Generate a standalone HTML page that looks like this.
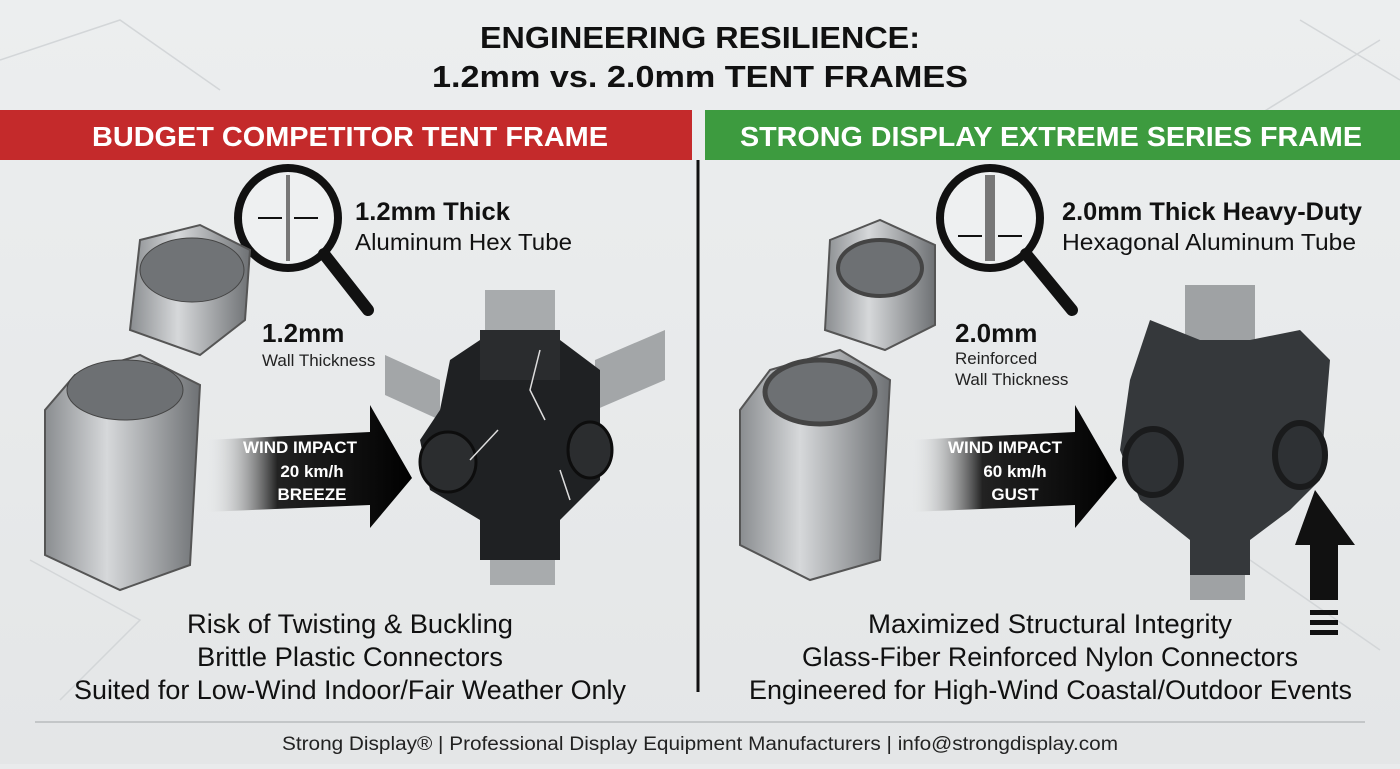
<!DOCTYPE html>
<html><head><meta charset="utf-8"><style>
html,body{margin:0;padding:0;}
body{width:1400px;height:764px;overflow:hidden;background:#e9ebec;font-family:"Liberation Sans",sans-serif;}
svg text{font-family:"Liberation Sans",sans-serif;}
</style></head><body>
<svg width="1400" height="764" viewBox="0 0 1400 764" xmlns="http://www.w3.org/2000/svg">
<defs>
<linearGradient id="tube" x1="0" x2="1"><stop offset="0" stop-color="#8a8d90"/><stop offset="0.4" stop-color="#d6d8da"/><stop offset="1" stop-color="#6e7174"/></linearGradient>
<linearGradient id="bg" x1="0" y1="0" x2="0" y2="1"><stop offset="0" stop-color="#eceeef"/><stop offset="1" stop-color="#e4e6e7"/></linearGradient>
<linearGradient id="arr" x1="0" x2="1"><stop offset="0" stop-color="#e9ebec" stop-opacity="0"/><stop offset="0.35" stop-color="#222"/><stop offset="1" stop-color="#000"/></linearGradient>
</defs>
<rect width="1400" height="764" fill="url(#bg)"/>
<g stroke="#d3d6d8" stroke-width="1.5" fill="none">
<path d="M0 60 L120 20 L220 90 M1300 20 L1400 80 M1250 120 L1380 40 M30 560 L140 620 L60 700 M1250 560 L1380 650"/>
</g>
<text x="480" y="48" font-size="31" font-weight="bold" fill="#111" textLength="440" lengthAdjust="spacingAndGlyphs">ENGINEERING RESILIENCE:</text>
<text x="432" y="87" font-size="31" font-weight="bold" fill="#111" textLength="536" lengthAdjust="spacingAndGlyphs">1.2mm vs. 2.0mm TENT FRAMES</text>
<rect x="0" y="110" width="692" height="50" fill="#c42a2b"/>
<rect x="705" y="110" width="695" height="50" fill="#3d9b3f"/>
<text x="92" y="146" font-size="28" font-weight="bold" fill="#fff" textLength="516" lengthAdjust="spacingAndGlyphs">BUDGET COMPETITOR TENT FRAME</text>
<text x="740" y="146" font-size="28" font-weight="bold" fill="#fff" textLength="622" lengthAdjust="spacingAndGlyphs">STRONG DISPLAY EXTREME SERIES FRAME</text>
<line x1="698" y1="160" x2="698" y2="692" stroke="#111" stroke-width="3"/>
<line x1="35" y1="722" x2="1365" y2="722" stroke="#b8bbbd" stroke-width="1.5"/>
<text x="282" y="750" font-size="19" fill="#222" textLength="836" lengthAdjust="spacingAndGlyphs">Strong Display® | Professional Display Equipment Manufacturers | info@strongdisplay.com</text>

<!-- LEFT -->
<g>
<circle cx="288" cy="218" r="50" fill="#eef0f1" stroke="#111" stroke-width="8"/>
<line x1="324" y1="254" x2="368" y2="310" stroke="#111" stroke-width="12" stroke-linecap="round"/>
<rect x="286" y="175" width="4" height="86" fill="#777"/>
<path d="M258 218h24M318 218h-24" stroke="#111" stroke-width="2"/>
<text x="355" y="220" font-size="25" font-weight="bold" fill="#111" textLength="155" lengthAdjust="spacingAndGlyphs">1.2mm Thick</text>
<text x="355" y="250" font-size="23" fill="#111" textLength="217" lengthAdjust="spacingAndGlyphs">Aluminum Hex Tube</text>
<path d="M140 240 L200 225 L250 250 L245 320 L200 355 L130 330 Z" fill="url(#tube)" stroke="#555" stroke-width="2"/>
<ellipse cx="192" cy="270" rx="52" ry="32" fill="#707376" stroke="#444"/>
<path d="M75 375 L140 355 L200 385 L190 565 L120 590 L45 555 L45 410 Z" fill="url(#tube)" stroke="#555" stroke-width="2"/>
<ellipse cx="125" cy="390" rx="58" ry="30" fill="#6d7073" stroke="#444"/>
<text x="262" y="342" font-size="26" font-weight="bold" fill="#111">1.2mm</text>
<text x="262" y="366" font-size="17" fill="#222">Wall Thickness</text>
<path d="M205 440 L370 432 L370 405 L412 478 L370 528 L370 505 L205 512 Z" fill="url(#arr)"/>
<text x="300" y="453" text-anchor="middle" font-size="17" font-weight="bold" fill="#fff">WIND IMPACT</text>
<text x="312" y="477" text-anchor="middle" font-size="17" font-weight="bold" fill="#fff">20 km/h</text>
<text x="312" y="500" text-anchor="middle" font-size="17" font-weight="bold" fill="#fff">BREEZE</text>
<rect x="485" y="290" width="70" height="70" fill="#a8abad"/>
<rect x="490" y="530" width="65" height="55" fill="#a8abad"/>
<path d="M385 355 L440 380 L440 420 L385 395 Z M595 360 L665 330 L665 380 L595 410 Z" fill="#a3a6a8"/>
<path d="M450 360 L480 340 L560 340 L600 370 L600 480 L560 520 L560 560 L480 560 L480 520 L430 490 L420 440 L440 410 Z" fill="#1f2123"/>
<path d="M480 330 L560 330 L560 380 L480 380 Z" fill="#2a2c2e"/>
<ellipse cx="448" cy="462" rx="28" ry="30" fill="#2b2d2f" stroke="#0d0d0d" stroke-width="3"/>
<ellipse cx="590" cy="450" rx="22" ry="28" fill="#2b2d2f" stroke="#0d0d0d" stroke-width="3"/>
<path d="M540 350 L530 390 L545 420 M498 430 L470 460 M570 500 L560 470" stroke="#ddd" stroke-width="1.5" fill="none"/>
<text x="187" y="633" font-size="27" fill="#111" textLength="326" lengthAdjust="spacingAndGlyphs">Risk of Twisting &amp; Buckling</text>
<text x="197" y="666" font-size="27" fill="#111" textLength="306" lengthAdjust="spacingAndGlyphs">Brittle Plastic Connectors</text>
<text x="74" y="699" font-size="27" fill="#111" textLength="552" lengthAdjust="spacingAndGlyphs">Suited for Low-Wind Indoor/Fair Weather Only</text>
</g>

<!-- RIGHT -->
<g>
<circle cx="990" cy="218" r="50" fill="#eef0f1" stroke="#111" stroke-width="8"/>
<line x1="1026" y1="254" x2="1072" y2="310" stroke="#111" stroke-width="12" stroke-linecap="round"/>
<rect x="985" y="175" width="10" height="86" fill="#777"/>
<path d="M958 236h24M1022 236h-24" stroke="#111" stroke-width="2"/>
<text x="1062" y="220" font-size="25" font-weight="bold" fill="#111" textLength="300" lengthAdjust="spacingAndGlyphs">2.0mm Thick Heavy-Duty</text>
<text x="1062" y="250" font-size="23" fill="#111" textLength="294" lengthAdjust="spacingAndGlyphs">Hexagonal Aluminum Tube</text>
<path d="M830 240 L880 220 L935 245 L935 325 L885 350 L825 330 Z" fill="url(#tube)" stroke="#555" stroke-width="2"/>
<ellipse cx="880" cy="268" rx="42" ry="28" fill="#6d7073" stroke="#444" stroke-width="4"/>
<path d="M770 370 L840 350 L890 380 L880 560 L810 580 L740 545 L740 410 Z" fill="url(#tube)" stroke="#555" stroke-width="2"/>
<ellipse cx="820" cy="392" rx="55" ry="32" fill="#6d7073" stroke="#444" stroke-width="5"/>
<text x="955" y="342" font-size="26" font-weight="bold" fill="#111">2.0mm</text>
<text x="955" y="364" font-size="17" fill="#222">Reinforced</text>
<text x="955" y="385" font-size="17" fill="#222">Wall Thickness</text>
<path d="M910 440 L1075 432 L1075 405 L1117 478 L1075 528 L1075 505 L910 512 Z" fill="url(#arr)"/>
<text x="1005" y="453" text-anchor="middle" font-size="17" font-weight="bold" fill="#fff">WIND IMPACT</text>
<text x="1015" y="477" text-anchor="middle" font-size="17" font-weight="bold" fill="#fff">60 km/h</text>
<text x="1015" y="500" text-anchor="middle" font-size="17" font-weight="bold" fill="#fff">GUST</text>
<rect x="1185" y="285" width="70" height="60" fill="#9fa2a4"/>
<rect x="1190" y="560" width="55" height="40" fill="#9fa2a4"/>
<path d="M1150 320 L1200 340 L1250 340 L1300 330 L1330 360 L1320 480 L1290 510 L1250 540 L1250 575 L1190 575 L1190 540 L1140 500 L1120 450 L1130 380 Z" fill="#35383b"/>
<ellipse cx="1153" cy="462" rx="28" ry="33" fill="#2e3134" stroke="#1a1b1c" stroke-width="6"/>
<ellipse cx="1300" cy="455" rx="25" ry="32" fill="#2e3134" stroke="#1a1b1c" stroke-width="6"/>
<path d="M1315 490 L1355 545 L1338 545 L1338 600 L1310 600 L1310 545 L1295 545 Z" fill="#111"/>
<rect x="1310" y="610" width="28" height="5" fill="#111"/>
<rect x="1310" y="620" width="28" height="5" fill="#111"/>
<rect x="1310" y="630" width="28" height="5" fill="#111"/>
<text x="868" y="633" font-size="27" fill="#111" textLength="364" lengthAdjust="spacingAndGlyphs">Maximized Structural Integrity</text>
<text x="802" y="666" font-size="27" fill="#111" textLength="496" lengthAdjust="spacingAndGlyphs">Glass-Fiber Reinforced Nylon Connectors</text>
<text x="749" y="699" font-size="27" fill="#111" textLength="603" lengthAdjust="spacingAndGlyphs">Engineered for High-Wind Coastal/Outdoor Events</text>
</g>
</svg>
</body></html>
